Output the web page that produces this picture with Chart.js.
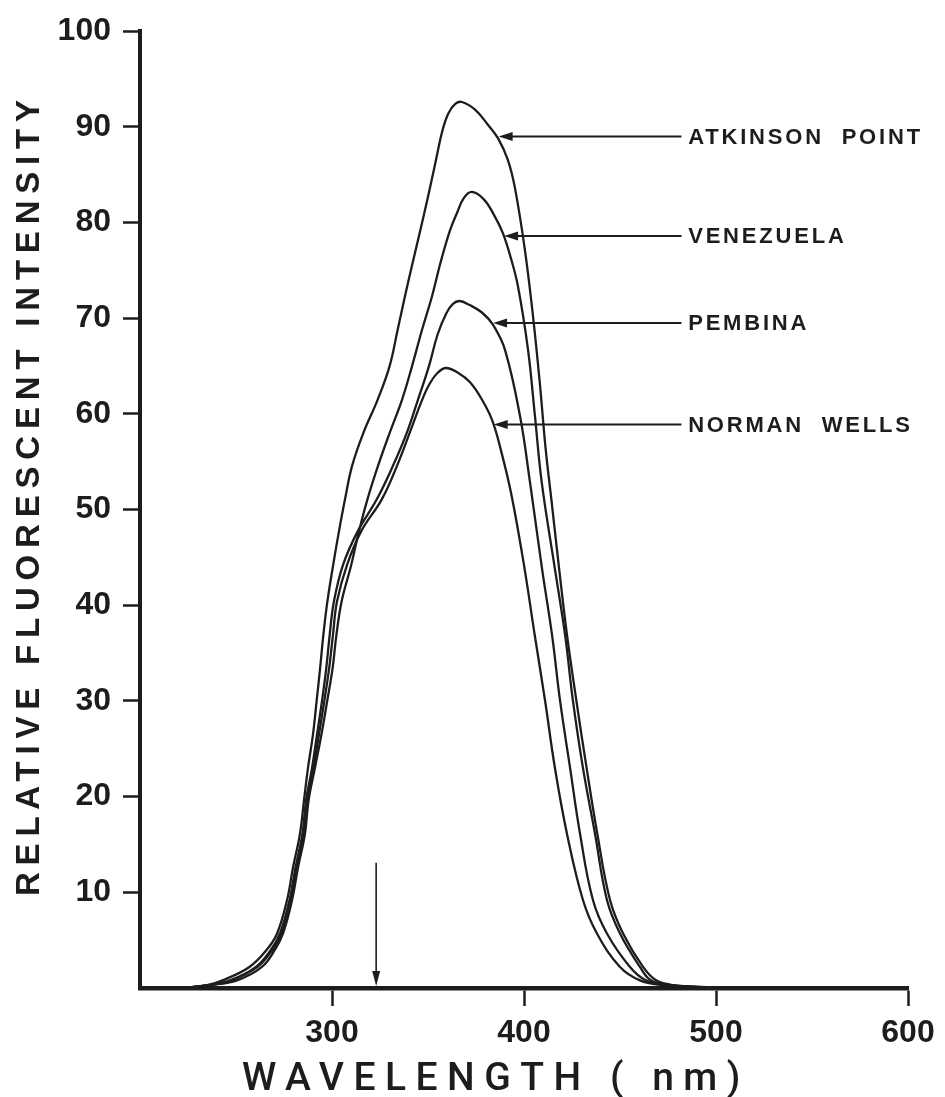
<!DOCTYPE html>
<html>
<head>
<meta charset="utf-8">
<script src="https://cdn.jsdelivr.net/npm/chart.js@4.4.1/dist/chart.umd.min.js"></script>
<style>
  html, body { margin: 0; padding: 0; background: #fff; }
  #wrap { width: 945px; height: 1097px; position: relative; }
</style>
</head>
<body>
<div id="wrap"><canvas id="chart"></canvas></div>
<script>
// emission spectra: wavelength (nm) and relative intensity
const atkinsonNm = [222, 235, 243, 257, 266, 271.4, 276.6, 279.7, 283.3, 285.4, 287.5, 290.1, 292.0, 293.8, 295.5, 297.6, 300.6, 303.6, 306.8, 310.5, 316.5, 323.8, 330.0, 334.2, 338.0, 342.0, 346.0, 350.0, 353.8, 357.5, 360.6, 364.2, 367.7, 374.5, 381.3, 386.5, 391.5, 395.3, 400.5, 404.7, 408.2, 411.3, 414.4, 418.3, 422.4, 427.3, 432.6, 438.2, 444.8, 451.6, 462.0, 468.8, 478, 495, 510];
const atkinsonI  = [0, 0.3, 0.8, 2.2, 4.0, 5.7, 9.2, 12.6, 16.1, 19.6, 23.0, 26.5, 30.0, 33.4, 36.9, 40.4, 44.2, 47.7, 51.1, 54.6, 58.1, 61.5, 65.0, 68.8, 72.3, 75.8, 79.2, 82.7, 86.2, 89.6, 91.4, 92.4, 92.6, 91.8, 90.2, 88.8, 86.6, 83.6, 77.1, 70.2, 63.3, 56.3, 50.8, 43.8, 36.9, 30.0, 23.0, 16.1, 9.2, 5.7, 2.2, 0.8, 0.3, 0.1, 0];

const venezuelaNm = [222, 236, 250.5, 263.5, 270.3, 274.5, 279.2, 282.3, 285.9, 287.8, 291.1, 294.5, 297.5, 300.3, 302.3, 305.0, 310.0, 314.0, 318.5, 324.0, 330.2, 336.5, 341.7, 346.9, 352.1, 356.5, 361.5, 365.1, 368.8, 372.9, 379.2, 384.9, 389.0, 393.0, 396.9, 402.1, 405.7, 409.2, 416.1, 421.4, 425.5, 430.7, 437.0, 443.2, 450.0, 460.4, 466.1, 476, 492, 508];
const venezuelaI  = [0, 0.3, 0.8, 2.2, 4.0, 5.7, 9.2, 12.6, 16.1, 19.6, 23.0, 26.5, 30.0, 33.4, 36.9, 40.4, 44.2, 47.7, 51.1, 54.6, 58.1, 61.5, 65.0, 68.8, 72.3, 75.8, 79.2, 81.0, 82.6, 83.2, 82.4, 80.6, 78.9, 76.4, 73.3, 66.7, 59.8, 52.9, 43.8, 36.9, 30.0, 23.0, 16.1, 9.2, 5.7, 2.2, 0.8, 0.3, 0.1, 0];

const pembinaNm = [222, 236, 246.9, 260.4, 268.2, 272.9, 277.9, 281.0, 284.6, 286.5, 289.6, 292.2, 294.8, 297.0, 298.8, 301.0, 305.7, 313.3, 323.4, 331.8, 339.1, 344.8, 350.5, 355.0, 359.5, 363.0, 366.5, 371.5, 378.1, 383.9, 390.1, 397.9, 403.1, 409.4, 414.6, 418.8, 424.0, 429.2, 435.9, 443.2, 455.2, 463.5, 474, 490, 506];
const pembinaI  = [0, 0.3, 0.8, 2.2, 4.0, 5.7, 9.2, 12.6, 16.1, 19.6, 23.0, 26.5, 30.0, 33.4, 36.9, 40.4, 44.2, 47.7, 51.1, 54.6, 58.1, 61.5, 65.0, 68.3, 70.5, 71.5, 71.8, 71.4, 70.6, 69.3, 66.7, 59.8, 52.9, 43.8, 36.9, 30.0, 23.0, 16.1, 9.2, 5.7, 2.2, 0.8, 0.3, 0.1, 0];

const normanWellsNm = [222, 236, 247.7, 261.2, 269.0, 273.7, 278.6, 281.8, 285.4, 287.2, 290.4, 293.2, 296.0, 298.5, 300.5, 302.6, 307.8, 315.1, 326.0, 333.9, 340.6, 347.0, 351.0, 355.0, 359.4, 365.6, 371.9, 378.1, 383.5, 388.5, 393.5, 400.0, 405.5, 411.0, 416.1, 422.4, 430.7, 438.0, 450.0, 460.4, 472, 488, 504];
const normanWellsI  = [0, 0.3, 0.8, 2.2, 4.0, 5.7, 9.2, 12.6, 16.1, 19.6, 23.0, 26.5, 30.0, 33.4, 36.9, 40.4, 44.2, 47.7, 51.1, 54.6, 58.1, 61.5, 63.2, 64.3, 64.8, 64.3, 63.3, 61.5, 59.3, 55.8, 51.5, 44.2, 37.0, 30.0, 23.0, 16.1, 9.2, 5.7, 2.2, 0.8, 0.3, 0.1, 0];

// labels with pointer arrows (arrow height in intensity units, arrow tip in nm)
const seriesLabels = ['ATKINSON  POINT', 'VENEZUELA', 'PEMBINA', 'NORMAN  WELLS'];
const arrowLevel = [89.0, 78.6, 69.5, 58.9];
const arrowTipNm = [386.8, 389.6, 383.9, 384.2];
const arrowTailNm = 482;
const labelNm = 485.5;

// excitation wavelength marker
const excitationNm = 323;
const excitationTop = 13.1;

const xTicks = [300, 400, 500, 600];
const yTicks = [10, 20, 30, 40, 50, 60, 70, 80, 90, 100];

const INK = '#1d1d1d';
const FONT = '"Liberation Sans", Arial, sans-serif';

const zip = (xs, ys) => xs.map((x, i) => ({ x: x, y: ys[i] }));

const spectra = [
    zip(atkinsonNm, atkinsonI),
    zip(venezuelaNm, venezuelaI),
    zip(pembinaNm, pembinaI),
    zip(normanWellsNm, normanWellsI),
];

const hideUnlisted = (list) => (ctx) => (ctx.tick && list.includes(ctx.tick.value) ? INK : 'rgba(0,0,0,0)');

const paper = {
    id: 'paper',
    beforeDraw(chart) {
        const { ctx, width, height } = chart;
        ctx.save();
        ctx.fillStyle = '#fff';
        ctx.fillRect(0, 0, width, height);
        ctx.restore();
    },
};

const annotate = {
    id: 'annotate',
    afterDatasetsDraw(chart) {
        const { ctx, scales: { x, y } } = chart;
        ctx.save();
        ctx.strokeStyle = INK;
        ctx.fillStyle = INK;

        arrowLevel.forEach((lvl, i) => {
            const py = y.getPixelForValue(lvl);
            const tip = x.getPixelForValue(arrowTipNm[i]);
            const tail = x.getPixelForValue(arrowTailNm);
            ctx.lineWidth = 2;
            ctx.beginPath();
            ctx.moveTo(tail, py);
            ctx.lineTo(tip + 8, py);
            ctx.stroke();
            ctx.beginPath();
            ctx.moveTo(tip, py);
            ctx.lineTo(tip + 14, py - 4.5);
            ctx.lineTo(tip + 14, py + 4.5);
            ctx.closePath();
            ctx.fill();

            ctx.font = 'bold 22px ' + FONT;
            ctx.letterSpacing = '2.8px';
            ctx.textAlign = 'left';
            ctx.textBaseline = 'middle';
            ctx.fillText(seriesLabels[i], x.getPixelForValue(labelNm), py + 1);
            ctx.letterSpacing = '0px';
        });

        // excitation arrow down to the axis
        const ex = x.getPixelForValue(excitationNm);
        const top = y.getPixelForValue(excitationTop);
        const bottom = y.getPixelForValue(0) - 2;
        ctx.lineWidth = 1.6;
        ctx.beginPath();
        ctx.moveTo(ex, top);
        ctx.lineTo(ex, bottom - 10);
        ctx.stroke();
        ctx.beginPath();
        ctx.moveTo(ex, bottom);
        ctx.lineTo(ex - 4, bottom - 15);
        ctx.lineTo(ex + 4, bottom - 15);
        ctx.closePath();
        ctx.fill();
        ctx.restore();
    },
    afterDraw(chart) {
        const { ctx, chartArea } = chart;
        ctx.save();
        ctx.fillStyle = INK;

        // y title, rotated, widely spaced
        ctx.save();
        ctx.translate(chartArea.left - 110, (chartArea.top + chartArea.bottom) / 2 - 15);
        ctx.rotate(-Math.PI / 2);
        ctx.font = 'bold 33px ' + FONT;
        ctx.letterSpacing = '6.8px';
        ctx.textAlign = 'center';
        ctx.textBaseline = 'middle';
        ctx.fillText('RELATIVE FLUORESCENT INTENSITY', 0, 0);
        ctx.restore();

        // x title
        ctx.font = '500 39px Roboto, ' + FONT;
        ctx.letterSpacing = '9.5px';
        ctx.textAlign = 'center';
        ctx.textBaseline = 'alphabetic';
        ctx.fillText('WAVELENGTH ( nm)', chartArea.left + 356, chartArea.bottom + 102);
        ctx.restore();
    },
};

new Chart(document.getElementById('chart').getContext('2d'), {
    type: 'line',
    data: {
        datasets: spectra.map((pts, i) => ({
            label: seriesLabels[i],
            data: pts,
            borderColor: INK,
            borderWidth: 2.3,
            pointRadius: 0,
            fill: false,
            tension: 0.4,
        })),
    },
    options: {
        responsive: true,
        maintainAspectRatio: false,
        devicePixelRatio: 1,
        animation: false,
        layout: { padding: { top: 27, right: 37, bottom: 0, left: 0 } },
        plugins: {
            legend: { display: false },
            tooltip: { enabled: false },
        },
        scales: {
            x: {
                type: 'linear',
                min: 200,
                max: 600,
                afterFit: (s) => { s.height = 109; },
                afterBuildTicks: (s) => { s.ticks = [200].concat(xTicks).map((v) => ({ value: v })); },
                border: { display: true, color: INK, width: 4.5 },
                grid: {
                    drawOnChartArea: false,
                    drawTicks: true,
                    tickLength: 18,
                    tickWidth: 2.5,
                    color: hideUnlisted(xTicks),
                    tickColor: hideUnlisted(xTicks),
                },
                ticks: {
                    color: INK,
                    padding: 8,
                    maxRotation: 0,
                    font: { family: FONT, size: 32, weight: 'bold' },
                    callback: (v) => (xTicks.includes(v) ? String(v) : ''),
                },
            },
            y: {
                type: 'linear',
                min: 0,
                max: 100,
                afterFit: (s) => { s.width = 140; },
                afterBuildTicks: (s) => { s.ticks = [0].concat(yTicks).map((v) => ({ value: v })); },
                border: { display: true, color: INK, width: 4 },
                grid: {
                    drawOnChartArea: false,
                    drawTicks: true,
                    tickLength: 17,
                    tickWidth: 2.5,
                    color: hideUnlisted(yTicks),
                    tickColor: hideUnlisted(yTicks),
                },
                ticks: {
                    color: INK,
                    padding: 12,
                    font: { family: FONT, size: 32, weight: 'bold' },
                    callback: (v) => (yTicks.includes(v) ? String(v) : ''),
                },
            },
        },
    },
    plugins: [paper, annotate],
});
</script>
</body>
</html>
